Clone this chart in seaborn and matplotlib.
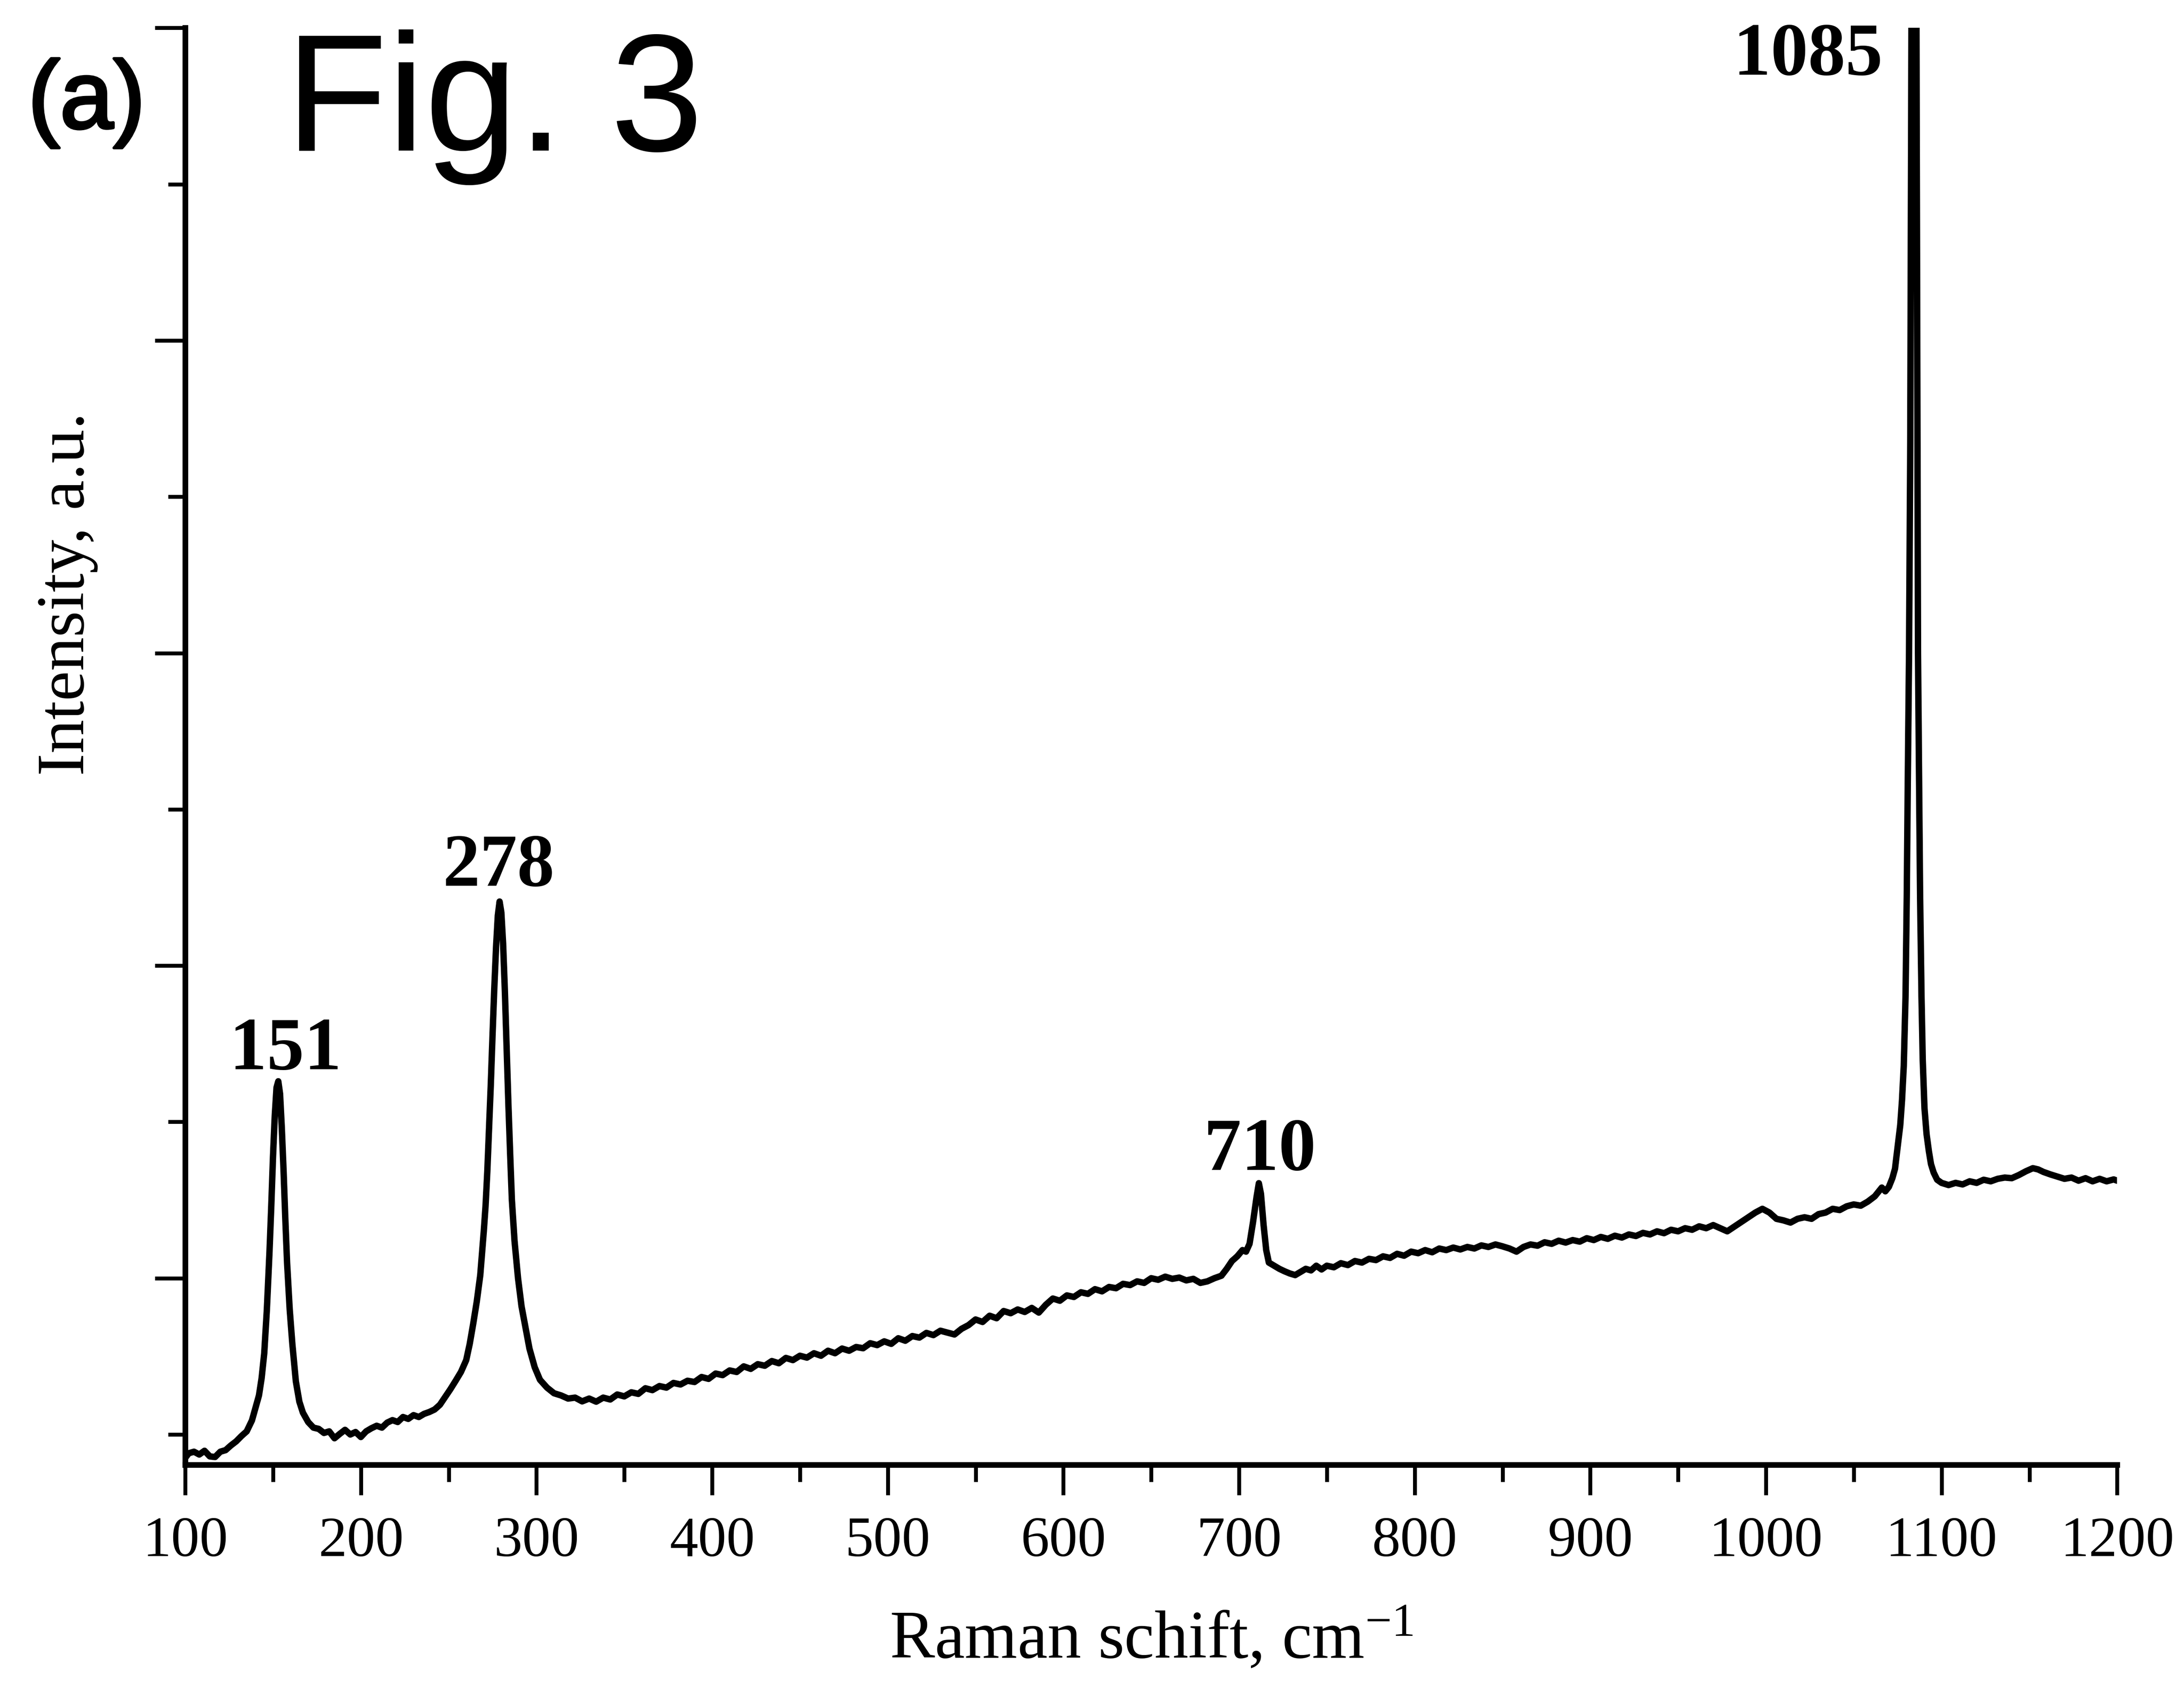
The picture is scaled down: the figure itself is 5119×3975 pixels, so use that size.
import matplotlib
matplotlib.use("Agg")
import matplotlib.pyplot as plt
import matplotlib.patheffects as pe
import seaborn as sns
from matplotlib.ticker import MultipleLocator

# Raman spectrum (intensity in arbitrary units)
shift_cm = [
    100, 102, 105, 108, 111, 114, 117, 120, 123, 126, 129, 132, 135, 138, 140,
    142, 143.5, 145, 146.5, 148, 149, 150, 151, 152, 153, 154, 155, 156, 157, 158,
    159.5, 161, 163, 165, 167, 170, 173, 176, 179, 182, 185, 188, 191, 194, 197,
    200, 203, 206, 209, 212, 215, 218, 221, 224, 227, 230, 233, 236, 239, 242,
    245, 248, 251, 254, 257, 260, 262, 264, 266, 268, 270, 271, 272, 273, 274,
    275, 276, 277, 278, 279, 280, 281, 282, 283, 284, 285, 286, 287.5, 289.5, 291.5,
    293.5, 296, 299, 302, 306, 310, 314, 318, 322, 326, 330, 334, 338, 342, 346,
    350, 354, 358, 362, 366, 370, 374, 378, 382, 386, 390, 394, 398, 402, 406,
    410, 414, 418, 422, 426, 430, 434, 438, 442, 446, 450, 454, 458, 462, 466,
    470, 474, 478, 482, 486, 490, 494, 498, 502, 506, 510, 514, 518, 522, 526,
    530, 534, 538, 542, 546, 550, 554, 558, 562, 566, 570, 574, 578, 582, 586,
    590, 594, 598, 602, 606, 610, 614, 618, 622, 626, 630, 634, 638, 642, 646,
    650, 654, 658, 662, 666, 670, 674, 678, 682, 686, 690, 693, 696, 699, 702,
    704, 706, 708, 710, 711.3, 712.5, 714, 715.5, 717, 720, 723, 726, 729, 732, 735,
    738, 741, 744, 747, 750, 754, 758, 762, 766, 770, 774, 778, 782, 786, 790,
    794, 798, 802, 806, 810, 814, 818, 822, 826, 830, 834, 838, 842, 846, 850,
    854, 858, 862, 866, 870, 874, 878, 882, 886, 890, 894, 898, 902, 906, 910,
    914, 918, 922, 926, 930, 934, 938, 942, 946, 950, 954, 958, 962, 966, 970,
    974, 978, 982, 986, 990, 994, 998, 1002, 1006, 1010, 1014, 1018, 1022, 1026, 1030,
    1034, 1038, 1042, 1046, 1050, 1054, 1058, 1062, 1066, 1068, 1070, 1072, 1073.5, 1075, 1076.5,
    1077.5, 1078.5, 1079.5, 1080.2, 1080.8, 1081.5, 1082.2, 1084.4, 1086.3, 1086.6, 1087.2, 1087.8, 1088.6, 1089.3, 1090.3,
    1091.5, 1092.8, 1094, 1095.5, 1097.5, 1100, 1104, 1108, 1112, 1116, 1120, 1124, 1128, 1132, 1136,
    1140, 1144, 1148, 1152, 1155, 1158, 1162, 1166, 1170, 1174, 1178, 1182, 1186, 1190, 1194,
    1198, 1200,
]
intensity = [
    425, 440, 445, 436, 448, 430, 428, 445, 450, 465, 478, 495, 510, 545, 585,
    625, 680, 760, 900, 1085, 1230, 1390, 1520, 1610, 1630, 1590, 1480, 1345, 1190, 1050,
    900, 790, 670, 605, 570, 540, 522, 518, 505, 510, 488, 502, 515, 500, 508,
    492, 510, 520, 528, 522, 538, 546, 540, 556, 550, 562, 556, 566, 572, 580,
    595, 620, 645, 672, 700, 738, 790, 855, 925, 1010, 1150, 1230, 1340, 1480, 1620,
    1780, 1930, 2060, 2160, 2205, 2170, 2070, 1920, 1740, 1560, 1400, 1250, 1120, 1000, 910,
    850, 775, 715, 675, 650, 632, 625, 615, 618, 606, 615, 605, 618, 612, 628,
    622, 635, 630, 648, 642, 655, 650, 665, 660, 672, 668, 684, 678, 695, 690,
    705, 700, 718, 710, 725, 720, 735, 728, 745, 738, 752, 746, 760, 752, 768,
    760, 775, 768, 780, 776, 792, 786, 798, 790, 808, 800, 815, 810, 825, 818,
    832, 826, 820, 838, 850, 868, 860, 880, 872, 895, 888, 900, 892, 905, 890,
    915, 935, 928, 945, 940, 955, 950, 965, 958, 972, 968, 982, 978, 990, 985,
    1000, 995, 1005, 998, 1002, 993, 998, 985, 990, 1000, 1008, 1030, 1055, 1070, 1090,
    1085, 1110, 1180, 1260, 1304, 1270, 1170, 1090, 1050, 1040, 1030, 1022, 1015, 1010, 1020,
    1030, 1025, 1040, 1028, 1040, 1035, 1048, 1042, 1055, 1050, 1062, 1058, 1070, 1065, 1078,
    1072, 1085, 1080, 1090, 1083, 1095, 1090, 1098, 1092, 1100, 1095, 1105, 1100, 1108, 1102,
    1095, 1085, 1100, 1108, 1104, 1115, 1110, 1120, 1114, 1122, 1117, 1128, 1122, 1132, 1126,
    1136, 1130, 1140, 1135, 1145, 1140, 1150, 1144, 1155, 1150, 1160, 1155, 1166, 1160, 1170,
    1160, 1150, 1165, 1180, 1195, 1210, 1222, 1210, 1190, 1185, 1178, 1190, 1195, 1190, 1205,
    1210, 1222, 1218, 1230, 1236, 1232, 1245, 1262, 1290, 1278, 1292, 1320, 1350, 1420, 1490,
    1570, 1680, 1900, 2220, 2600, 3000, 3680, 8000, 3680, 3000, 2600, 2220, 1900, 1697, 1543,
    1460, 1406, 1365, 1338, 1315, 1305, 1298, 1305, 1300, 1310, 1305, 1315, 1310, 1318, 1322,
    1320, 1330, 1342, 1352, 1348, 1340, 1332, 1325, 1318, 1322, 1312, 1320, 1310, 1318, 1310,
    1316, 1312,
]

peak_text = ["151", "278", "710", "1085"]
peak_label_x = [157, 278.5, 712, 1024]
peak_label_y = [1668, 2256, 1347, 4850]

sns.set_style("ticks")
plt.rcParams["font.family"] = ["Liberation Serif", "DejaVu Serif"]
plt.rcParams["mathtext.fontset"] = "custom"
plt.rcParams["mathtext.rm"] = "Liberation Serif"
plt.rcParams["mathtext.it"] = "Liberation Serif:italic"
for key in ["text.color", "axes.labelcolor", "xtick.color", "ytick.color", "axes.edgecolor"]:
    plt.rcParams[key] = "black"

fig = plt.figure(figsize=(5119 / 300, 3975 / 300), dpi=300)
ax = fig.add_axes([0.0848, 0.1363, 0.8846, 0.8473])

sns.lineplot(x=shift_cm, y=intensity, color="black", linewidth=3.6, ax=ax)

ax.set_xlim(100, 1200)
ax.set_ylim(403, 5000)
ax.xaxis.set_major_locator(MultipleLocator(100))
ax.xaxis.set_minor_locator(MultipleLocator(50))
ax.yaxis.set_major_locator(MultipleLocator(1000))
ax.yaxis.set_minor_locator(MultipleLocator(500))
ax.set_yticklabels([])

for side in ["top", "right"]:
    ax.spines[side].set_visible(False)
for side in ["left", "bottom"]:
    ax.spines[side].set_linewidth(3.2)

ax.tick_params(which="major", direction="out", length=17, width=2.2,
               labelsize=32, pad=12, color="black", labelcolor="black")
ax.tick_params(which="minor", direction="out", length=9.5, width=2.2, color="black")

ax.set_xlabel(r"Raman schift, cm$^{-1}$", fontsize=38, labelpad=22, color="black")
ax.set_ylabel("Intensity, a.u.", fontsize=38, color="black")
ax.yaxis.set_label_coords(-0.045, 0.606)

for txt, px, py in zip(peak_text, peak_label_x, peak_label_y):
    ax.text(px, py, txt, ha="center", va="baseline", fontsize=42,
            fontweight="bold", color="black", clip_on=False)

fig.text(0.0128, 0.9245, "(a)", fontsize=54, color="black",
         family=["Liberation Sans", "DejaVu Sans"], ha="left", va="baseline",
         path_effects=[pe.withStroke(linewidth=1.6, foreground="black")])
fig.text(0.1307, 0.9113, "Fig. 3", fontsize=94, color="black",
         family=["Liberation Sans", "DejaVu Sans"], ha="left", va="baseline")

fig.savefig("out.png", dpi=300, facecolor="white")
